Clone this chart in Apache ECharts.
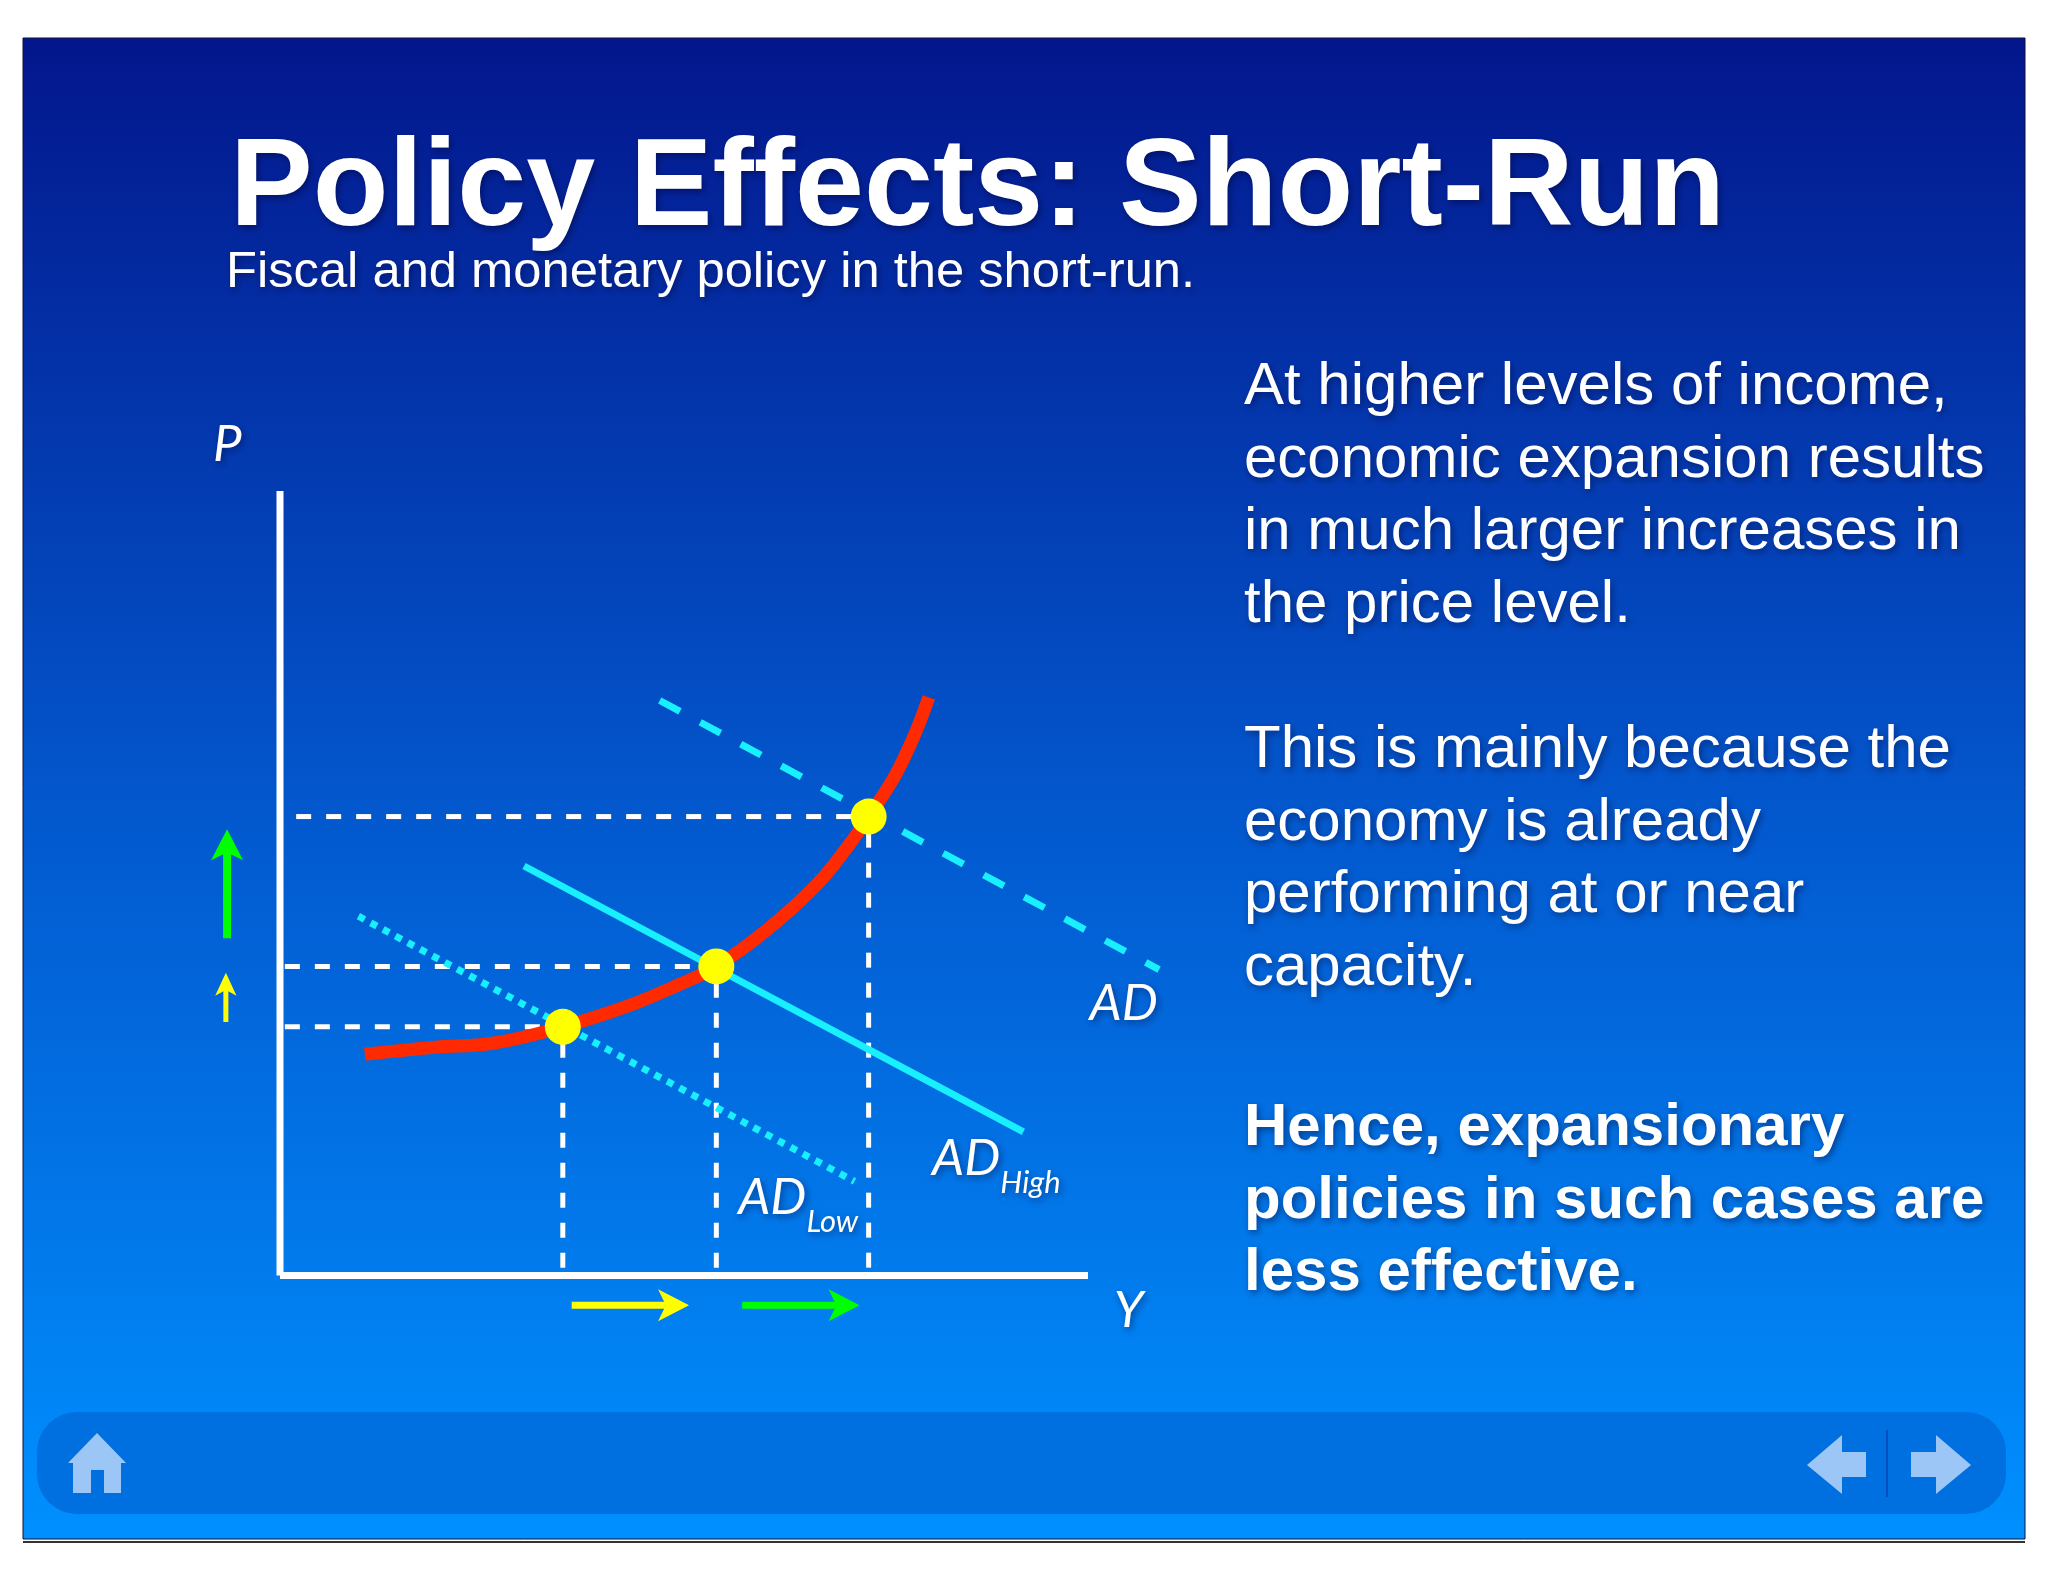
<!DOCTYPE html>
<html>
<head>
<meta charset="utf-8">
<title>Policy Effects: Short-Run</title>
<script src="https://cdn.jsdelivr.net/npm/echarts@6/dist/echarts.min.js"></script>
<style>
html,body{margin:0;padding:0;background:#fff;}
#main{width:2048px;height:1582px;}
</style>
</head>
<body>
<div id="main"></div>
<script>
var titleText = 'Policy Effects: Short-Run';
var subtitleText = 'Fiscal and monetary policy in the short-run.';
var para1 = ['At higher levels of income,', 'economic expansion results', 'in much larger increases in', 'the price level.'];
var para2 = ['This is mainly because the', 'economy is already', 'performing at or near', 'capacity.'];
var para3 = ['Hence, expansionary', 'policies in such cases are', 'less effective.'];

// values, the drawn axes run 0-100
var xAxisLine = [[0,0],[100,0]];
var yAxisLine = [[0,0],[0,100]];
var supplyCurve = [[10.5,28.2],[19.2,29.1],[26.3,29.6],[35,31.7],[42.9,34.3],[49.2,37],[54,39.4],[60.2,44],[66.5,49.9],[70.5,55],[72.85,58.5],[76,63.5],[78.4,68.6],[80.3,73.7]];
var adHighLine = [[47,73.3],[108.8,39]];
var adLine = [[30.2,52.2],[92,18.3]];
var adLowLine = [[9.7,45.8],[71.1,12]];
var equilibria = [[35,31.7],[54,39.4],[72.85,58.5]];
var guideStartX = [0.6,0.6,2];
var guideEndY = 1;

function shadowText(o){
    o.textShadowColor = 'rgba(0,0,40,0.45)';
    o.textShadowBlur = 7;
    o.textShadowOffsetX = 2;
    o.textShadowOffsetY = 3;
    return o;
}

function textBlock(text,left,top,size,weight,lh){
    return {
        text: text,
        left: left,
        top: top,
        padding: 0,
        textStyle: shadowText({
            color: '#fff',
            fontFamily: '"Liberation Sans"',
            fontSize: size,
            fontWeight: weight,
            lineHeight: lh
        })
    };
}

function lineSeries(data,color,width,dash,smooth){
    return {
        type: 'line',
        data: data,
        silent: true,
        animation: false,
        showSymbol: false,
        smooth: smooth || false,
        lineStyle: {color: color, width: width, type: dash || 'solid', cap: 'butt'}
    };
}

// arrow: the head is a symbol hung past the last point of the shaft
function arrowSeries(from,to,color,width,head,rotate,offset){
    return {
        type: 'line',
        data: [
            {value: from, symbol: 'none'},
            {value: to, symbol: 'arrow', symbolSize: head, symbolRotate: rotate, symbolOffset: offset, itemStyle: {color: color, opacity: 1}}
        ],
        silent: true,
        animation: false,
        showSymbol: true,
        showAllSymbol: true,
        lineStyle: {color: color, width: width}
    };
}

function chartLabel(pos,name,sub){
    return {
        value: pos,
        label: {
            show: true,
            position: 'right',
            distance: 0,
            opacity: 1,
            formatter: sub ? '{a|' + name + '}{b|' + sub + '}' : '{a|' + name + '}',
            rich: {
                a: shadowText({color:'#fff', fontFamily:'Lato', fontStyle:'italic', fontSize:51, verticalAlign:'bottom', lineHeight:70}),
                b: shadowText({color:'#fff', fontFamily:'Lato', fontStyle:'italic', fontSize:31, verticalAlign:'bottom', lineHeight:40, padding:[0,0,-14,0]})
            }
        }
    };
}

var series = [];
equilibria.forEach(function(p,i){
    series.push(lineSeries([[guideStartX[i],p[1]],p],'#fff',5,[15,15]));
    series.push(lineSeries([[p[0],guideEndY],p],'#fff',5,[15,15]));
});
series.push(lineSeries(adHighLine,'#19f0ff',7,[23,23]));
series.push(lineSeries(adLine,'#19f0ff',7));
series.push(lineSeries(adLowLine,'#19f0ff',7,[7,7]));
series.push(lineSeries(supplyCurve,'#ff2a00',13,null,0.4));
series.push(lineSeries(xAxisLine,'#fff',7));
series.push(lineSeries(yAxisLine,'#fff',7));
series.push({
    type: 'scatter',
    data: equilibria,
    symbolSize: 36,
    z: 5,
    silent: true,
    animation: false,
    itemStyle: {color: '#ffff00', opacity: 1}
});
series.push(arrowSeries([36.1,-3.8],[48.4,-3.8],'#ffff00',7,[24,31],-90,[18,0]));
series.push(arrowSeries([57.2,-3.8],[69.5,-3.8],'#00ff00',7,[24,31],-90,[18,0]));
series.push(arrowSeries([-6.55,43],[-6.55,54.6],'#00ff00',8,[24,31],0,[0,-18]));
series.push(arrowSeries([-6.7,32.3],[-6.7,36.8],'#ffff00',5,[16,23],0,[0,-14]));
series.push({
    type: 'scatter',
    symbolSize: 0,
    silent: true,
    animation: false,
    itemStyle: {opacity: 1},
    data: [
        chartLabel([100.2,35.9],'AD'),
        chartLabel([80.7,16.1],'AD','High'),
        chartLabel([56.7,11.1],'AD','Low'),
        chartLabel([-8.3,107.1],'P'),
        chartLabel([103.2,-3.3],'Y')
    ]
});

var myChart = echarts.init(document.getElementById('main'));

var option = {
    backgroundColor: '#fff',
    title: [
        textBlock(titleText,230,121,124,'bold',140),
        textBlock(subtitleText,226,245,50.7,'normal',56),
        textBlock(para1.join('\n'),1244,351,60,'normal',72.7),
        textBlock(para2.join('\n'),1244,714,60,'normal',72.7),
        textBlock(para3.join('\n'),1244,1092,60,'bold',72.7)
    ],
    // room left around the drawn axes for the arrows and the long AD line
    grid: {left: 199.2, top: 412.55, width: 1010, height: 941.4},
    xAxis: {
        type: 'value', min: -10, max: 115, show: false
    },
    yAxis: {
        type: 'value', min: -10, max: 110, show: false
    },
    series: series,
    graphic: {
        elements: [
            {type:'rect', z:-30, shape:{x:23,y:38,width:2002,height:1501},
             style:{fill:new echarts.graphic.LinearGradient(0,0,0,1,[
                {offset:0,color:'#03168c'},
                {offset:0.5,color:'#0356cc'},
                {offset:1,color:'#0090ff'}
             ]), stroke:'#10103a', lineWidth:1}},
            {type:'rect', z:-29, shape:{x:23,y:1541,width:2002,height:2}, style:{fill:'#333'}},
            {type:'rect', z:-28, shape:{x:37,y:1412,width:1969,height:102,r:40}, style:{fill:'#006fe0'}},
            {type:'polygon', z:-27, shape:{points:[[97,1433],[126,1463],[121,1463],[121,1493],[104,1493],[104,1470],[91,1470],[91,1493],[73,1493],[73,1463],[68,1463]]}, style:{fill:'#9cc6f6'}},
            {type:'polygon', z:-27, shape:{points:[[1807,1465],[1842,1435],[1842,1452],[1866,1452],[1866,1477],[1842,1477],[1842,1494]]}, style:{fill:'#9cc6f6'}},
            {type:'polygon', z:-27, shape:{points:[[1971,1465],[1936,1435],[1936,1452],[1911,1452],[1911,1477],[1936,1477],[1936,1494]]}, style:{fill:'#9cc6f6'}},
            {type:'rect', z:-27, shape:{x:1886,y:1430,width:2,height:67}, style:{fill:'#0050c0'}}
        ]
    }
};

myChart.setOption(option);
</script>
</body>
</html>
